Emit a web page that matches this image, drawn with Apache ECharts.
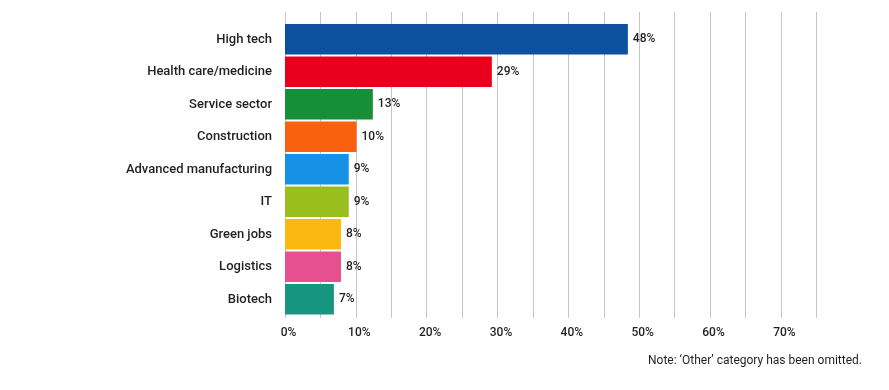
<!DOCTYPE html>
<html><head><meta charset="utf-8">
<script src="https://cdn.jsdelivr.net/npm/echarts@6/dist/echarts.min.js"></script>
<style>html,body{margin:0;padding:0;background:#fff}#c{width:889px;height:390px}</style>
</head><body><div id="c"></div>
<script>
const categories = ["High tech","Health care/medicine","Service sector","Construction","Advanced manufacturing","IT","Green jobs","Logistics","Biotech"];
const values = [48.4, 29.2, 12.4, 10.1, 9.0, 9.0, 7.9, 7.9, 6.9];
const valueLabels = ["48%","29%","13%","10%","9%","9%","8%","8%","7%"];
const barColors = ["#0e50a0","#e8001c","#178f38","#f9600f","#1591e6","#9bbe1f","#fbb810","#e6508e","#169580"];
const tickLabelsShown = [0,10,20,30,40,50,60,70];
const note = "Note: \u2018Other\u2019 category has been omitted.";

const FONT = "Roboto";
const chart = echarts.init(document.getElementById('c'), null, {renderer:'canvas'});
chart.setOption({
  animation:false,
  backgroundColor:'#fff',
  grid:[
    {left:285, right:72.7, top:23, bottom:74.5},
    {left:285, right:72.7, top:12, bottom:72}
  ],
  xAxis:[
    {gridIndex:0, type:'value', min:0, max:75, interval:5, axisLabel:{show:false}, splitLine:{show:false}, axisLine:{show:false}, axisTick:{show:false}},
    {gridIndex:1, type:'value', min:0, max:75, interval:5,
      axisLine:{show:false}, axisTick:{show:false},
      splitLine:{show:true, lineStyle:{color:'#c6c6c6', width:1}},
      axisLabel:{margin:9, color:'#231f20', fontFamily:FONT, fontSize:12, fontWeight:500, padding:[0,0,0,7],
        formatter:function(v){ return tickLabelsShown.indexOf(v)>=0 ? v+'%' : ''; }}
    }
  ],
  yAxis:[
    {gridIndex:0, type:'category', data:categories, inverse:true,
      axisLine:{show:false}, axisTick:{show:false}, splitLine:{show:false},
      axisLabel:{margin:13, color:'#231f20', fontFamily:FONT, fontSize:13, fontWeight:500}},
    {gridIndex:1, type:'category', data:categories, show:false}
  ],
  series:[{
    type:'bar', xAxisIndex:0, yAxisIndex:0, z:3,
    data: values.map((v,i)=>({value:v, itemStyle:{color:barColors[i]}})),
    barCategoryGap:'6%',
    label:{show:true, position:'right', distance:5, color:'#231f20', fontFamily:FONT, fontSize:12, fontWeight:500,
      formatter:function(p){ return valueLabels[p.dataIndex]; }}
  }],
  graphic:[{type:'text', right:27, top:355, style:{text:note, fill:'#231f20', font:'12px '+FONT}}]
});
</script></body></html>
